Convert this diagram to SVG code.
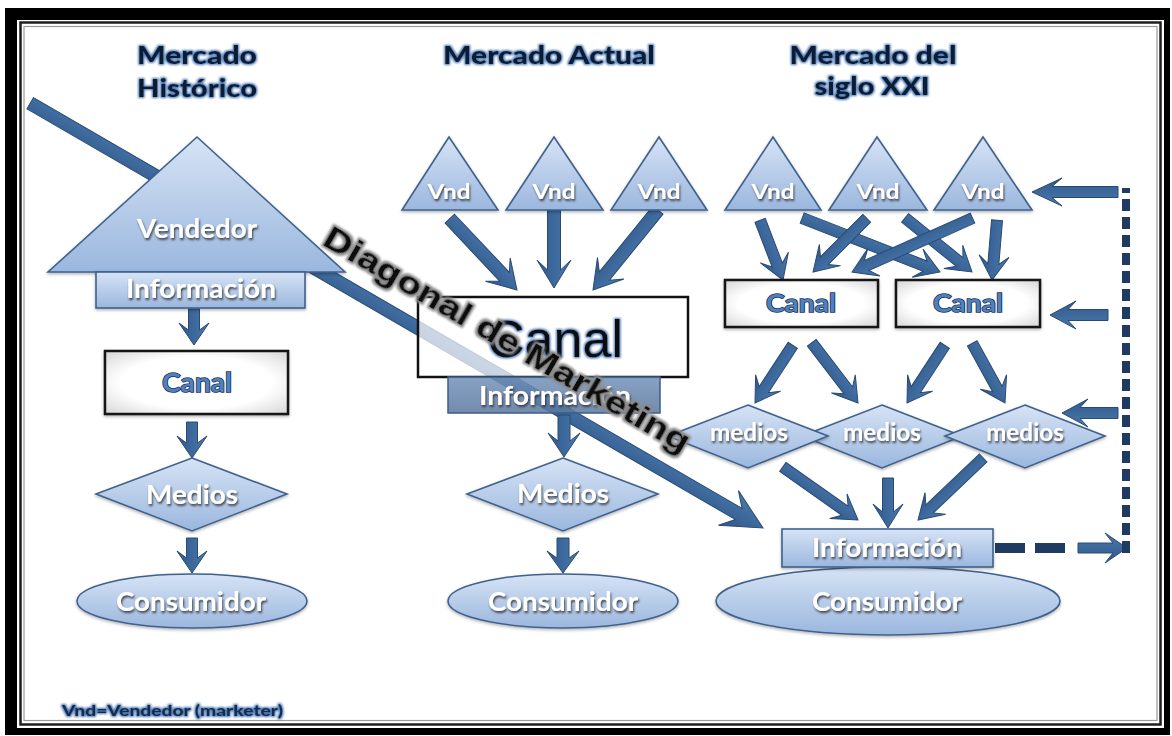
<svg xmlns="http://www.w3.org/2000/svg" width="1172" height="736" viewBox="0 0 1172 736">
  <defs>
    <linearGradient id="gBlue" x1="0" y1="0" x2="0" y2="1">
      <stop offset="0" stop-color="#d6e3f5"/>
      <stop offset="1" stop-color="#9bb7de"/>
    </linearGradient>
    <linearGradient id="gSteel" x1="0" y1="0" x2="0" y2="1">
      <stop offset="0" stop-color="#7391ba"/>
      <stop offset="1" stop-color="#5a789f"/>
    </linearGradient>
    <radialGradient id="gWhite" cx="0.5" cy="0.5" r="0.75">
      <stop offset="0.55" stop-color="#ffffff"/>
      <stop offset="1" stop-color="#cfcfcf"/>
    </radialGradient>
    <linearGradient id="gArrow" x1="0" y1="0" x2="0" y2="1">
      <stop offset="0" stop-color="#4b78ad"/>
      <stop offset="1" stop-color="#30598a"/>
    </linearGradient>
    <filter id="txtShadow" x="-10%" y="-30%" width="120%" height="160%">
      <feGaussianBlur in="SourceAlpha" stdDeviation="1.3"/>
      <feOffset dx="1" dy="1.5" result="o"/>
      <feFlood flood-color="#2b2b2b" flood-opacity="0.85"/>
      <feComposite in2="o" operator="in" result="s"/>
      <feMerge><feMergeNode in="s"/><feMergeNode in="SourceGraphic"/></feMerge>
    </filter>
    <filter id="glowBlue" x="-10%" y="-30%" width="120%" height="160%">
      <feMorphology in="SourceAlpha" operator="dilate" radius="1.2"/>
      <feGaussianBlur stdDeviation="1" result="d"/>
      <feFlood flood-color="#4a78b5"/>
      <feComposite in2="d" operator="in" result="g"/>
      <feMerge><feMergeNode in="g"/><feMergeNode in="SourceGraphic"/></feMerge>
    </filter>
    <filter id="shapeShadow" x="-10%" y="-10%" width="120%" height="130%">
      <feDropShadow dx="0" dy="1.5" stdDeviation="1.5" flood-color="#000" flood-opacity="0.3"/>
    </filter>
    <filter id="wordArt" x="-5%" y="-30%" width="110%" height="160%">
      <feMorphology in="SourceAlpha" operator="dilate" radius="1.6"/>
      <feGaussianBlur stdDeviation="1.2" result="d"/>
      <feFlood flood-color="#8a8a8a"/>
      <feComposite in2="d" operator="in" result="g"/>
      <feMerge><feMergeNode in="g"/><feMergeNode in="SourceGraphic"/></feMerge>
    </filter>
  </defs>
  <style>
    .shape { fill: url(#gBlue); stroke: #3f618d; stroke-width: 1.6; filter: url(#shapeShadow); }
    .box { fill: url(#gWhite); stroke: #151515; stroke-width: 2.5; filter: url(#shapeShadow); }
    .lbl { font-family: Lato, "Liberation Sans", sans-serif; font-weight: 700; fill: #ffffff; text-anchor: middle; filter: url(#txtShadow); }
    .canal { font-family: Lato, "Liberation Sans", sans-serif; font-weight: 700; fill: #4f81bd; stroke: #1d3557; stroke-width: 1.6; paint-order: stroke; text-anchor: middle; }
    .title { font-family: Lato, "Liberation Sans", sans-serif; font-weight: 900; font-size: 25px; fill: #0b1a30; text-anchor: middle; filter: url(#glowBlue); }
    .arr { fill: url(#gArrow); stroke: #284a73; stroke-width: 1; }
    .dash { fill: none; stroke: #1f3b61; }
  </style>

  <!-- outer frame -->
  <rect x="5" y="8" width="1165" height="727" fill="#000"/>
  <rect x="17" y="20" width="1147" height="708" fill="#fff"/>
  <rect x="20.5" y="22.5" width="1140" height="702" fill="none" stroke="#1e1e1e" stroke-width="2.5"/>
  <rect x="24" y="26.5" width="1133" height="694" fill="none" stroke="#9a9a9a" stroke-width="1.2"/>

  <!-- titles -->
  <g id="titles">
    <text class="title" x="197" y="64" textLength="120" lengthAdjust="spacingAndGlyphs">Mercado</text>
    <text class="title" x="197" y="97" textLength="120" lengthAdjust="spacingAndGlyphs">Histórico</text>
    <text class="title" x="549" y="64" textLength="212" lengthAdjust="spacingAndGlyphs">Mercado Actual</text>
    <text class="title" x="873" y="64" textLength="167" lengthAdjust="spacingAndGlyphs">Mercado del</text>
    <text class="title" x="872" y="95" textLength="115" lengthAdjust="spacingAndGlyphs">siglo XXI</text>
  </g>

  <!-- connectors -->
  <g id="connectors">
    <!-- marketing diagonal -->
    <path class="arr" transform="translate(763,528) rotate(30.1)" d="M-847 -6.5 L-28 -6.5 L-40 -20 L0 0 L-40 20 L-28 6.5 L-847 6.5 Z"/>

    <!-- historic column -->
    <path class="arr" transform="translate(194,345) rotate(90)" d="M-36 -5.5 L-15 -5.5 L-22 -15 L0 0 L-22 15 L-15 5.5 L-36 5.5 Z"/>
    <path class="arr" transform="translate(192,458) rotate(90)" d="M-36 -5.5 L-15 -5.5 L-22 -15 L0 0 L-22 15 L-15 5.5 L-36 5.5 Z"/>
    <path class="arr" transform="translate(192,573) rotate(90)" d="M-35 -5.5 L-15 -5.5 L-22 -15 L0 0 L-22 15 L-15 5.5 L-35 5.5 Z"/>

    <!-- current column -->
    <path class="arr" transform="translate(517,290) rotate(46.7)" d="M-98 -6.5 L-18 -6.5 L-28 -17 L0 0 L-28 17 L-18 6.5 L-98 6.5 Z"/>
    <path class="arr" transform="translate(554,288) rotate(90)" d="M-78 -6.5 L-18 -6.5 L-28 -17 L0 0 L-28 17 L-18 6.5 L-78 6.5 Z"/>
    <path class="arr" transform="translate(593,290) rotate(129.1)" d="M-103 -6.5 L-18 -6.5 L-28 -17 L0 0 L-28 17 L-18 6.5 L-103 6.5 Z"/>
    <path class="arr" transform="translate(564,457) rotate(90)" d="M-42 -6 L-16 -6 L-24 -16 L0 0 L-24 16 L-16 6 L-42 6 Z"/>
    <path class="arr" transform="translate(563,573) rotate(90)" d="M-35 -6 L-15 -6 L-22 -16 L0 0 L-22 16 L-15 6 L-35 6 Z"/>

    <!-- 21st century column: vendors to channels -->
    <path class="arr" transform="translate(783,280) rotate(69)" d="M-64 -5.5 L-16 -5.5 L-24 -15 L0 0 L-24 15 L-16 5.5 L-64 5.5 Z"/>
    <path class="arr" transform="translate(940,272) rotate(21.4)" d="M-148 -5.5 L-16 -5.5 L-24 -15 L0 0 L-24 15 L-16 5.5 L-148 5.5 Z"/>
    <path class="arr" transform="translate(813,272) rotate(135)" d="M-76 -5.5 L-16 -5.5 L-24 -15 L0 0 L-24 15 L-16 5.5 L-76 5.5 Z"/>
    <path class="arr" transform="translate(972,272) rotate(38.9)" d="M-86 -5.5 L-16 -5.5 L-24 -15 L0 0 L-24 15 L-16 5.5 L-86 5.5 Z"/>
    <path class="arr" transform="translate(852,272) rotate(155.9)" d="M-132 -5.5 L-16 -5.5 L-24 -15 L0 0 L-24 15 L-16 5.5 L-132 5.5 Z"/>
    <path class="arr" transform="translate(992,280) rotate(94.8)" d="M-60 -5.5 L-16 -5.5 L-24 -15 L0 0 L-24 15 L-16 5.5 L-60 5.5 Z"/>

    <!-- channels to media -->
    <path class="arr" transform="translate(755,403) rotate(123.2)" d="M-69 -5.5 L-16 -5.5 L-24 -15 L0 0 L-24 15 L-16 5.5 L-69 5.5 Z"/>
    <path class="arr" transform="translate(858,403) rotate(52.5)" d="M-76 -5.5 L-16 -5.5 L-24 -15 L0 0 L-24 15 L-16 5.5 L-76 5.5 Z"/>
    <path class="arr" transform="translate(907,403) rotate(123.2)" d="M-69 -5.5 L-16 -5.5 L-24 -15 L0 0 L-24 15 L-16 5.5 L-69 5.5 Z"/>
    <path class="arr" transform="translate(1005,403) rotate(61.2)" d="M-68 -5.5 L-16 -5.5 L-24 -15 L0 0 L-24 15 L-16 5.5 L-68 5.5 Z"/>

    <!-- media to information -->
    <path class="arr" transform="translate(858,520) rotate(35.2)" d="M-92 -5.5 L-16 -5.5 L-24 -15 L0 0 L-24 15 L-16 5.5 L-92 5.5 Z"/>
    <path class="arr" transform="translate(888,528) rotate(90)" d="M-50 -5.5 L-16 -5.5 L-24 -15 L0 0 L-24 15 L-16 5.5 L-50 5.5 Z"/>
    <path class="arr" transform="translate(918,520) rotate(136.4)" d="M-90 -5.5 L-16 -5.5 L-24 -15 L0 0 L-24 15 L-16 5.5 L-90 5.5 Z"/>

    <!-- feedback loop -->
    <path class="dash" d="M995 548 H1068" stroke-width="10" stroke-dasharray="30 10"/>
    <path class="arr" transform="translate(1127,548) rotate(0)" d="M-49 -5 L-14 -5 L-22 -15 L0 0 L-22 15 L-14 5 L-49 5 Z"/>
    <path class="dash" d="M1126 553 V188" stroke-width="8" stroke-dasharray="12 6"/>
    <path class="arr" transform="translate(1032,192) rotate(180)" d="M-86 -5.5 L-20 -5.5 L-30 -14 L0 0 L-30 14 L-20 5.5 L-86 5.5 Z"/>
    <path class="arr" transform="translate(1050,315) rotate(180)" d="M-58 -5.5 L-18 -5.5 L-26 -14 L0 0 L-26 14 L-18 5.5 L-58 5.5 Z"/>
    <path class="arr" transform="translate(1062,413) rotate(180)" d="M-56 -5.5 L-18 -5.5 L-26 -14 L0 0 L-26 14 L-18 5.5 L-56 5.5 Z"/>
  </g>

  <!-- historic market -->
  <g id="hist-vendedor">
    <polygon class="shape" points="197,137 345,272 48,272"/>
    <text class="lbl" x="197" y="238" font-size="27" textLength="120" lengthAdjust="spacingAndGlyphs">Vendedor</text>
  </g>
  <g id="hist-informacion">
    <rect class="shape" x="96" y="272" width="209" height="36"/>
    <text class="lbl" x="201" y="298" font-size="26" textLength="150" lengthAdjust="spacingAndGlyphs">Información</text>
  </g>
  <g id="hist-canal">
    <rect class="box" x="105" y="351" width="183" height="63"/>
    <text class="canal" x="197" y="392" font-size="27" textLength="70" lengthAdjust="spacingAndGlyphs">Canal</text>
  </g>
  <g id="hist-medios">
    <polygon class="shape" points="192,458 287,494 192,531 96,494"/>
    <text class="lbl" x="192" y="504" font-size="27" textLength="92" lengthAdjust="spacingAndGlyphs">Medios</text>
  </g>
  <g id="hist-consumidor">
    <ellipse class="shape" cx="192" cy="601" rx="115" ry="27"/>
    <text class="lbl" x="191" y="611" font-size="27" textLength="150" lengthAdjust="spacingAndGlyphs">Consumidor</text>
  </g>

  <!-- current market -->
  <g id="act-vnd-1">
    <polygon class="shape" points="449,137 498,210 402,210"/>
    <text class="lbl" x="449" y="199" font-size="21" textLength="43" lengthAdjust="spacingAndGlyphs">Vnd</text>
  </g>
  <g id="act-vnd-2">
    <polygon class="shape" points="554,137 603,210 506,210"/>
    <text class="lbl" x="554" y="199" font-size="21" textLength="43" lengthAdjust="spacingAndGlyphs">Vnd</text>
  </g>
  <g id="act-vnd-3">
    <polygon class="shape" points="659,137 707,210 611,210"/>
    <text class="lbl" x="659" y="199" font-size="21" textLength="43" lengthAdjust="spacingAndGlyphs">Vnd</text>
  </g>
  <g id="act-canal">
    <rect x="418" y="297" width="270" height="80" fill="#ffffff" fill-opacity="0.72" stroke="#111" stroke-width="2.5"/>
    <text x="555" y="357" font-family="'Liberation Sans', Arial, sans-serif" font-size="52" fill="#111" text-anchor="middle" filter="url(#glowBlue)">Canal</text>
  </g>
  <g id="act-informacion">
    <rect x="448" y="377" width="212" height="36" fill="url(#gSteel)" fill-opacity="0.85" stroke="#3e5d86" stroke-width="1.5"/>
    <text class="lbl" x="555" y="405" font-size="26" textLength="152" lengthAdjust="spacingAndGlyphs">Información</text>
  </g>
  <g id="act-medios">
    <polygon class="shape" points="563,458 658,494 563,531 467,494"/>
    <text class="lbl" x="563" y="503" font-size="27" textLength="92" lengthAdjust="spacingAndGlyphs">Medios</text>
  </g>
  <g id="act-consumidor">
    <ellipse class="shape" cx="563" cy="601" rx="115" ry="27"/>
    <text class="lbl" x="563" y="611" font-size="27" textLength="150" lengthAdjust="spacingAndGlyphs">Consumidor</text>
  </g>

  <!-- 21st century market -->
  <g id="xxi-vnd-1">
    <polygon class="shape" points="773,137 821,210 725,210"/>
    <text class="lbl" x="773" y="199" font-size="21" textLength="43" lengthAdjust="spacingAndGlyphs">Vnd</text>
  </g>
  <g id="xxi-vnd-2">
    <polygon class="shape" points="877,137 927,210 829,210"/>
    <text class="lbl" x="878" y="199" font-size="21" textLength="43" lengthAdjust="spacingAndGlyphs">Vnd</text>
  </g>
  <g id="xxi-vnd-3">
    <polygon class="shape" points="983,137 1032,210 934,210"/>
    <text class="lbl" x="983" y="199" font-size="21" textLength="43" lengthAdjust="spacingAndGlyphs">Vnd</text>
  </g>
  <g id="xxi-canal-1">
    <rect class="box" x="725" y="280" width="153" height="47"/>
    <text class="canal" x="801" y="312" font-size="25" textLength="70" lengthAdjust="spacingAndGlyphs">Canal</text>
  </g>
  <g id="xxi-canal-2">
    <rect class="box" x="896" y="280" width="144" height="47"/>
    <text class="canal" x="968" y="312" font-size="25" textLength="70" lengthAdjust="spacingAndGlyphs">Canal</text>
  </g>
  <g id="xxi-medios-2">
    <polygon class="shape" points="882,405 962,436 882,468 802,436"/>
    <text class="lbl" x="882" y="441" font-size="24" textLength="78" lengthAdjust="spacingAndGlyphs">medios</text>
  </g>
  <g id="xxi-medios-1">
    <polygon class="shape" points="748,405 828,436 748,468 668,436"/>
    <text class="lbl" x="749" y="441" font-size="24" textLength="78" lengthAdjust="spacingAndGlyphs">medios</text>
  </g>
  <g id="xxi-medios-3">
    <polygon class="shape" points="1025,405 1105,436 1025,468 945,436"/>
    <text class="lbl" x="1025" y="441" font-size="24" textLength="78" lengthAdjust="spacingAndGlyphs">medios</text>
  </g>
  <g id="xxi-consumidor">
    <ellipse class="shape" cx="888" cy="601" rx="172" ry="34"/>
    <text class="lbl" x="887" y="611" font-size="27" textLength="150" lengthAdjust="spacingAndGlyphs">Consumidor</text>
  </g>
  <g id="xxi-informacion">
    <rect class="shape" x="782" y="529" width="211" height="38"/>
    <text class="lbl" x="887" y="557" font-size="26" textLength="150" lengthAdjust="spacingAndGlyphs">Información</text>
  </g>

  <!-- label along the diagonal -->
  <g id="diagonal-label">
    <text transform="translate(321,244) rotate(30.1)" x="0" y="0" font-family="'Liberation Sans', Arial, sans-serif" font-weight="700" font-size="31" fill="#0d0d0d" filter="url(#wordArt)" textLength="418" lengthAdjust="spacingAndGlyphs">Diagonal de Marketing</text>
  </g>

  <!-- legend -->
  <text x="62" y="716" font-family="Lato, 'Liberation Sans', sans-serif" font-weight="900" font-size="15" fill="#15294a" filter="url(#glowBlue)" textLength="221" lengthAdjust="spacingAndGlyphs">Vnd=Vendedor (marketer)</text>
</svg>
